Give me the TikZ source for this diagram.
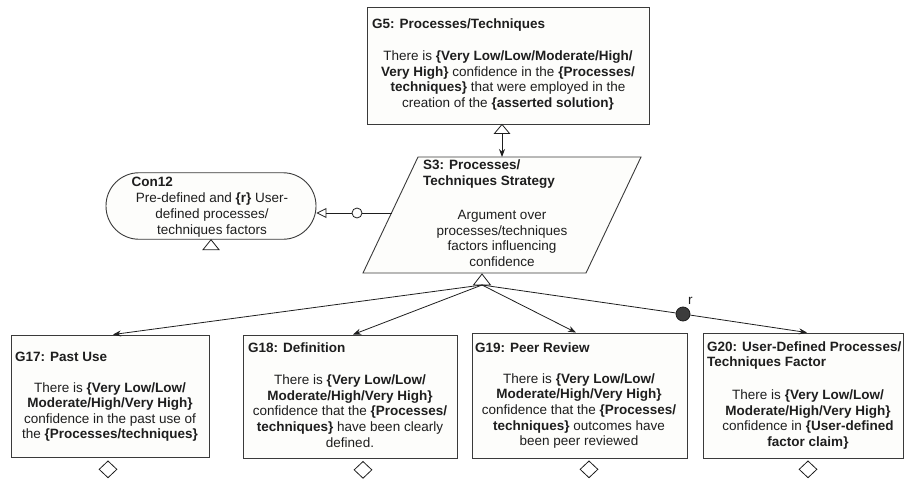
\documentclass[tikz,border=0pt]{standalone}
\usepackage{fontspec}
\setmainfont{Liberation Sans}
\usetikzlibrary{arrows.meta,shapes.geometric}
\definecolor{edge}{HTML}{3A3A3A}
\definecolor{ink}{HTML}{1E1E1E}
\definecolor{paper}{HTML}{FDFDFB}
\definecolor{dotfill}{HTML}{3C3C3C}
\tikzset{
  shapeline/.style={draw=edge, line width=0.9pt, fill=paper},
  gbox/.style={shapeline, rectangle, inner sep=0pt},
  title/.style={text=ink, font=\fontsize{13.5}{15.6}\selectfont\bfseries, align=left, inner sep=0pt},
  body/.style={text=ink, font=\fontsize{13.5}{15.6}\selectfont, align=center, inner sep=0pt},
  link/.style={draw=ink, line width=0.8pt},
  solid tip/.style={link, -{Stealth[length=8pt, width=6pt]}},
  open tip/.style={link, -{Triangle[open, length=10pt, width=10pt]}},
  marker/.style={draw=ink, line width=0.8pt, fill=white},
  optdiamond/.style={marker, diamond, inner sep=0pt, minimum width=18pt, minimum height=17pt, anchor=north},
}
\begin{document}
\begin{tikzpicture}[x=1pt, y=-1pt]
\useasboundingbox (0,0) rectangle (906,479);

% ---- top goal
\node[gbox, minimum width=282, minimum height=117] (G5) at (508,65.5) {};
\node[title, anchor=west] (G5t) at (372,25) {G5: Processes/Techniques};
\node[body] (G5b) at (508,80.5) {There is \textbf{\{Very Low/Low/Moderate/High/}\\
  \textbf{Very High\}} confidence in the \textbf{\{Processes/}\\
  \textbf{techniques\}} that were employed in the\\
  creation of the \textbf{\{asserted solution\}}};

% ---- strategy (parallelogram)
\draw[shapeline] (418,157) -- (641,157) -- (586,273) -- (363,273) -- cycle;
\coordinate (S3top) at (502,157);
\coordinate (S3left) at (392,213);
\coordinate (S3bot) at (482,274);
\node[title, anchor=west] (S3t) at (423,174) {S3: Processes/\\Techniques Strategy};
\node[body] (S3b) at (502,238.5) {Argument over\\processes/techniques\\factors influencing\\confidence};

% ---- context
\node[shapeline, rounded corners=33pt, minimum width=210, minimum height=66.5, inner sep=0pt] (Con12) at (211,206) {};
\node[title, anchor=west] (Con12t) at (131.5,182) {Con12};
\node[body] (Con12b) at (212,215) {Pre-defined and \textbf{\{r\}} User-\\defined processes/\\techniques factors};

% ---- sub-goals
\node[gbox, minimum width=198, minimum height=122] (G17) at (110,396) {};
\node[title, anchor=west] (G17t) at (15,357) {G17: Past Use};
\node[body] (G17b) at (110,412) {There is \textbf{\{Very Low/Low/}\\
  \textbf{Moderate/High/Very High\}}\\
  confidence in the past use of\\
  the \textbf{\{Processes/techniques\}}};

\node[gbox, minimum width=214, minimum height=123] (G18) at (350,396.5) {};
\node[title, anchor=west] (G18t) at (248,348) {G18: Definition};
\node[body] (G18b) at (350,411) {There is \textbf{\{Very Low/Low/}\\
  \textbf{Moderate/High/Very High\}}\\
  confidence that the \textbf{\{Processes/}\\
  \textbf{techniques\}} have been clearly\\
  defined.};

\node[gbox, minimum width=215, minimum height=125] (G19) at (579.5,395.5) {};
\node[title, anchor=west] (G19t) at (475,348) {G19: Peer Review};
\node[body] (G19b) at (579,411) {There is \textbf{\{Very Low/Low/}\\
  \textbf{Moderate/High/Very High\}}\\
  confidence that the \textbf{\{Processes/}\\
  \textbf{techniques\}} outcomes have\\
  been peer reviewed};

\node[gbox, minimum width=200, minimum height=125] (G20) at (803,395.5) {};
\node[title, anchor=west] (G20t) at (707,355.5) {G20: User-Defined Processes/\\Techniques Factor};
\node[body] (G20b) at (808,419.5) {There is \textbf{\{Very Low/Low/}\\
  \textbf{Moderate/High/Very High\}}\\
  confidence in \textbf{\{User-defined}\\
  \textbf{factor claim\}}};

% ---- G5 to S3
\draw[marker] ([xshift=-6pt]G5.south) -- ++(-7.5,9) -- ++(15,0) -- cycle;
\coordinate (G5tri) at ([xshift=-6pt,yshift=-9pt]G5.south);
\draw[solid tip] (G5tri) -- (S3top);

% ---- S3 to Con12
\node[marker, circle, minimum size=10pt, inner sep=0pt] (opt) at (357,213) {};
\draw[link] (S3left) -- (opt);
\draw[open tip] (opt) -- (Con12.east |- opt);
\draw[marker] (Con12.south) -- ++(-8,10) -- ++(16,0) -- cycle;

% ---- S3 to sub-goals
\draw[marker] (S3bot) -- ++(-8.5,11) -- ++(17,0) -- cycle;
\coordinate (fan) at ([yshift=-11pt]S3bot);
\draw[solid tip] (fan) -- ([xshift=3pt]G17.north);
\draw[solid tip] (fan) -- ([xshift=3pt]G18.north);
\draw[solid tip] (fan) -- ([xshift=-3.5pt]G19.north);
\node[circle, draw=ink, fill=dotfill, line width=0.8pt, minimum size=14pt, inner sep=0pt] (rdot) at (683,314) {};
\node[body, anchor=south west] (rlab) at (688,305) {r};
\draw[link] (fan) -- (rdot);
\draw[solid tip] (rdot) -- ([xshift=4pt]G20.north);

% ---- undeveloped markers
\node[optdiamond] (G17d) at ([xshift=-2pt,yshift=-3pt]G17.south) {};
\node[optdiamond] (G18d) at ([xshift=13pt,yshift=-2.5pt]G18.south) {};
\node[optdiamond] (G19d) at ([xshift=9.5pt,yshift=-2pt]G19.south) {};
\node[optdiamond] (G20d) at ([xshift=5pt,yshift=-2pt]G20.south) {};
\end{tikzpicture}
\end{document}
